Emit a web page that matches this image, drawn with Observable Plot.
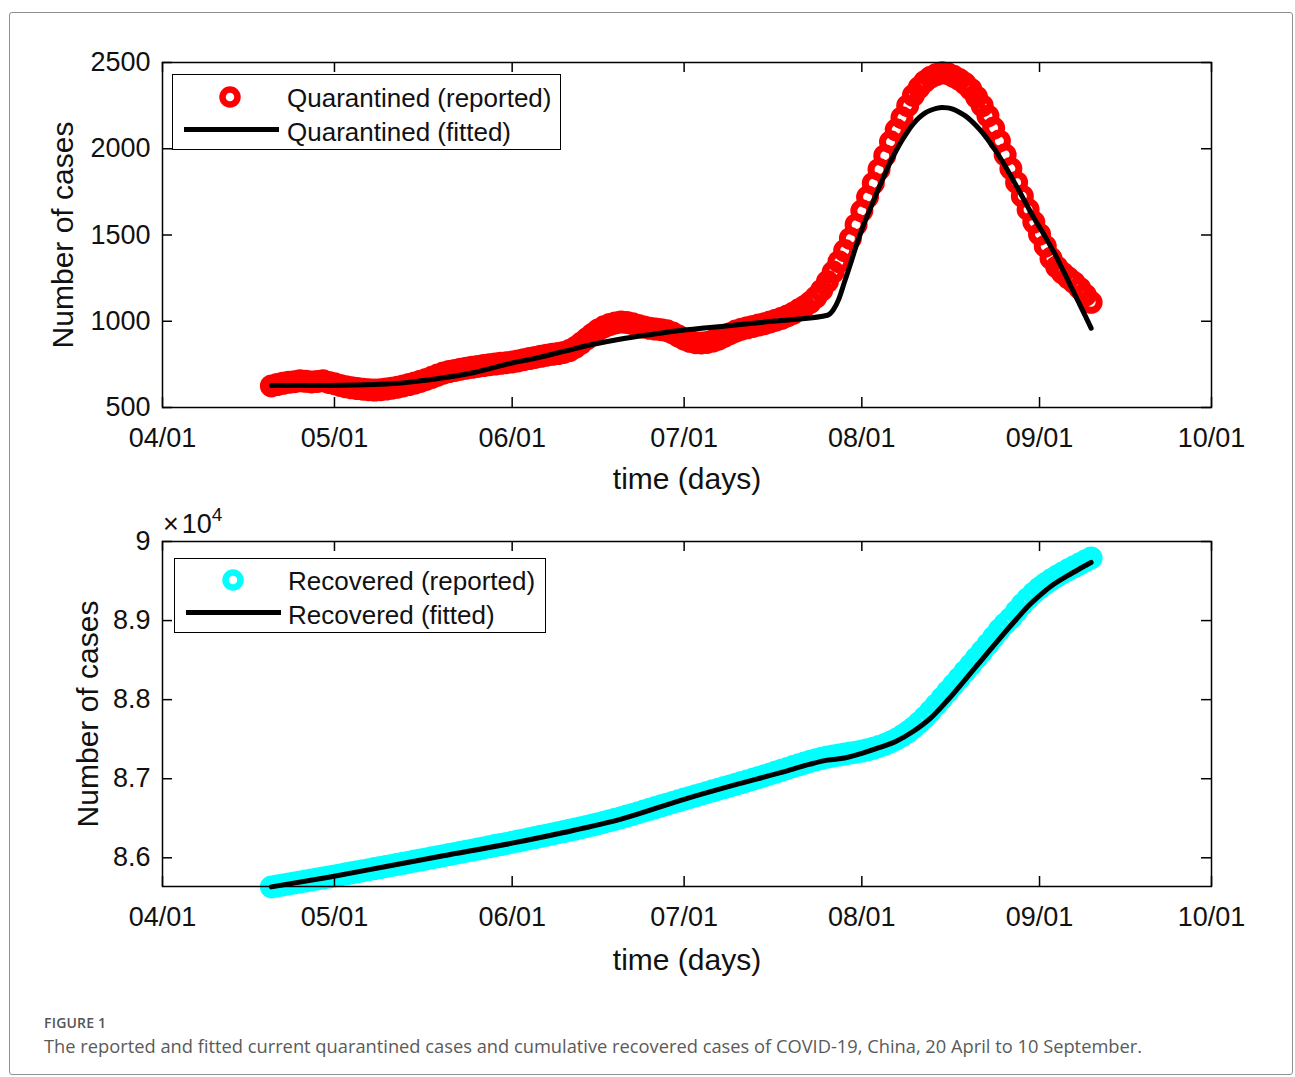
<!DOCTYPE html>
<html>
<head>
<meta charset="utf-8">
<script src="https://cdn.jsdelivr.net/npm/d3@7"></script>
<script src="https://cdn.jsdelivr.net/npm/@observablehq/plot@0.6"></script>
<style>
  html, body { margin:0; padding:0; background:#fff; }
  #fig { position:relative; width:1295px; height:1077px; overflow:hidden; background:#fff; }
  #border { position:absolute; left:9px; top:12px; width:1284px; height:1063px; box-sizing:border-box; border:1.5px solid #8f8f8f; border-radius:3px; }
  .panel { position:absolute; left:0; }
  .panel svg { display:block; overflow:visible; }
  .legend { position:absolute; box-sizing:border-box; border:1.5px solid #000; background:#fff; font-family:"Liberation Sans", Arial, sans-serif; font-size:26px; color:#111; }
  .legend .txt { position:absolute; white-space:nowrap; line-height:30px; }
  .legend svg.mk { position:absolute; overflow:visible; }
  .legend .ln { position:absolute; height:5px; background:#000; }
  .exp { position:absolute; font-family:"Liberation Sans", Arial, sans-serif; font-size:27px; line-height:30px; white-space:nowrap; color:#111; }
  .exp .sup { position:relative; top:-12px; font-size:19px; }
  #cap1 { position:absolute; left:44px; top:1013px; font-family:"Open Sans", "Noto Sans", sans-serif; font-size:14px; font-weight:600; letter-spacing:0.2px; color:#555; }
  #cap2 { position:absolute; left:44px; top:1033px; font-family:"Open Sans", "Noto Sans", sans-serif; font-size:18.3px; color:#5a5a5a; white-space:nowrap; }
</style>
</head>
<body>
<div id="fig">
  <div id="border"></div>
  <div class="panel" id="p1" style="top:0px"></div>
  <div class="panel" id="p2" style="top:490px"></div>

  <div class="legend" style="left:172px; top:74px; width:389px; height:76px;">
    <svg class="mk" style="left:0; top:0;" width="100" height="40"><circle cx="57" cy="22" r="7.5" fill="none" stroke="#ff0000" stroke-width="6.5"/></svg>
    <div class="txt" style="left:114px; top:8px;">Quarantined (reported)</div>
    <div class="ln" style="left:11px; top:52px; width:95px;"></div>
    <div class="txt" style="left:114px; top:42px;">Quarantined (fitted)</div>
  </div>

  <div class="legend" style="left:174px; top:558px; width:372px; height:75px;">
    <svg class="mk" style="left:0; top:0;" width="100" height="40"><circle cx="58" cy="21" r="7.5" fill="none" stroke="#00ffff" stroke-width="6.5"/></svg>
    <div class="txt" style="left:113px; top:7px;">Recovered (reported)</div>
    <div class="ln" style="left:11px; top:51px; width:95px;"></div>
    <div class="txt" style="left:113px; top:41px;">Recovered (fitted)</div>
  </div>

  <div class="exp" style="left:163px; top:509px;">×<span style="margin-left:3px">10</span><span class="sup">4</span></div>

  <div id="cap1">FIGURE 1</div>
  <div id="cap2">The reported and fitted current quarantined cases and cumulative recovered cases of COVID-19, China, 20 April to 10 September.</div>
</div>

<script>
// ---------- data ----------
const startDate = "2020-04-20"; // daily reports, 20 April to 10 September

const quarantinedReported = [
  // Apr 20-30
  625, 633, 640, 646, 650, 655, 652, 648, 651, 655, 645,
  // May
  638, 628, 620, 614, 610, 606, 603, 601, 603, 607, 612, 618, 625, 633, 642, 652, 663, 675, 688, 700, 708, 715, 722, 728, 733, 738, 743, 748, 752, 756, 760,
  // Jun
  764, 770, 777, 784, 790, 797, 803, 808, 813, 819, 830, 848, 872, 898, 925, 950, 968, 981, 990, 995, 993, 986, 976, 966, 959, 955, 951, 945, 932, 914,
  // Jul
  897, 884, 876, 874, 877, 885, 897, 912, 928, 943, 954, 962, 970, 978, 986, 996, 1006, 1017, 1031, 1046, 1066, 1086, 1110, 1140, 1180, 1230, 1285, 1345, 1410, 1480, 1560,
  // Aug
  1640, 1720, 1800, 1880, 1960, 2040, 2110, 2180, 2250, 2310, 2355, 2390, 2415, 2430, 2440, 2435, 2420, 2402, 2378, 2345, 2300, 2250, 2190, 2120, 2045, 1965, 1885, 1805, 1725, 1648, 1575,
  // Sep 1-10
  1505, 1435, 1365, 1315, 1280, 1252, 1225, 1192, 1152, 1110
];

const quarantinedFittedDates = [
  "2020-04-20","2020-04-25","2020-04-30","2020-05-05","2020-05-10","2020-05-15","2020-05-20","2020-05-25","2020-06-01","2020-06-05",
  "2020-06-10","2020-06-15","2020-06-20","2020-06-25","2020-06-30","2020-07-05","2020-07-10","2020-07-15","2020-07-20","2020-07-26",
  "2020-07-27","2020-07-28","2020-07-29","2020-07-30","2020-07-31","2020-08-01","2020-08-02","2020-08-03","2020-08-04","2020-08-05",
  "2020-08-06","2020-08-07","2020-08-08","2020-08-09","2020-08-10","2020-08-11","2020-08-12","2020-08-13","2020-08-14","2020-08-15",
  "2020-08-16","2020-08-17","2020-08-18","2020-08-19","2020-08-20","2020-08-21","2020-08-22","2020-08-23","2020-08-24","2020-08-25",
  "2020-08-26","2020-08-27","2020-08-28","2020-08-29","2020-08-30","2020-08-31","2020-09-01","2020-09-02","2020-09-03","2020-09-04",
  "2020-09-05","2020-09-06","2020-09-07","2020-09-08","2020-09-09","2020-09-10"
];
const quarantinedFitted = [
  627, 628, 628, 630, 636, 650, 672, 700, 758, 785,
  825, 865, 897, 922, 945, 962, 978, 995, 1010, 1035,
  1065, 1130, 1230, 1330, 1435, 1530, 1615, 1695, 1775, 1850,
  1925, 1990, 2048, 2100, 2145, 2180, 2206, 2223, 2234, 2239,
  2237, 2228, 2212, 2192, 2165, 2132, 2095, 2052, 2005, 1955,
  1900, 1842, 1782, 1722, 1660, 1600, 1545, 1490, 1430, 1370,
  1302, 1235, 1165, 1098, 1030, 960
];

const recoveredReported = [
  // Apr 20-30
  85632, 85644, 85657, 85669, 85682, 85694, 85707, 85719, 85732, 85744, 85757,
  // May
  85770, 85783, 85797, 85810, 85823, 85837, 85850, 85864, 85877, 85891, 85904, 85918, 85931, 85945, 85958, 85972, 85986, 86000, 86013, 86027, 86041, 86055, 86069, 86083, 86097, 86111, 86125, 86139, 86154, 86168, 86182,
  // Jun
  86197, 86211, 86226, 86241, 86256, 86271, 86286, 86301, 86317, 86332, 86348, 86364, 86380, 86397, 86414, 86432, 86450, 86469, 86488, 86508, 86528, 86549, 86570, 86592, 86613, 86635, 86657, 86678, 86700, 86721,
  // Jul
  86742, 86763, 86784, 86805, 86826, 86847, 86867, 86888, 86909, 86930, 86951, 86972, 86994, 87016, 87038, 87061, 87084, 87107, 87130, 87153, 87176, 87198, 87220, 87240, 87258, 87274, 87288, 87300, 87312, 87324, 87336,
  // Aug
  87350, 87366, 87385, 87408, 87434, 87465, 87500, 87542, 87590, 87645, 87708, 87778, 87855, 87937, 88020, 88104, 88188, 88272, 88356, 88441, 88527, 88614, 88702, 88792, 88883, 88960, 89030, 89120, 89205, 89280, 89350,
  // Sep 1-10
  89412, 89466, 89515, 89560, 89602, 89642, 89680, 89718, 89756, 89792
];

const recoveredFittedDates = [
  "2020-04-20","2020-04-30","2020-05-10","2020-05-20","2020-06-01","2020-06-10","2020-06-20","2020-07-01","2020-07-10","2020-07-18",
  "2020-07-23","2020-07-26","2020-07-29","2020-08-01","2020-08-04","2020-08-07","2020-08-10","2020-08-13","2020-08-16","2020-08-19",
  "2020-08-22","2020-08-25","2020-08-28","2020-08-30","2020-09-01","2020-09-03","2020-09-06","2020-09-08","2020-09-10"
];
const recoveredFitted = [
  85632, 85755, 85890, 86025, 86185, 86320, 86490, 86740, 86925, 87080,
  87185, 87235, 87262, 87320, 87392, 87474, 87600, 87766, 87995, 88250,
  88510, 88770, 89020, 89180, 89315, 89435, 89572, 89655, 89735
];

const monthTicks = ["2020-04-01","2020-05-01","2020-06-01","2020-07-01","2020-08-01","2020-09-01","2020-10-01"];
const quarantinedTicks = [500, 1000, 1500, 2000, 2500];
const recoveredTicks = [86000, 87000, 88000, 89000, 90000];
const quarantinedDomain = [500, 2500];
const recoveredDomain = [85637, 90000];

// ---------- drawing ----------
const parse = d3.utcParse("%Y-%m-%d");
const start = parse(startDate);
const xTicks = monthTicks.map(parse);
const xDomain = [xTicks[0], xTicks[xTicks.length - 1]];
const fmt = d3.utcFormat("%m/%d");

function panel({reported, fitDates, fitted, color, yDomain, yTicks, yFormat, height, marginTop, marginBottom, yLabelDx, xLabelDy}) {
  const W = 1295, ML = 162, MR = 84;
  const frameW = W - ML - MR;
  const frameH = height - marginTop - marginBottom;
  const rep = reported.map((v, i) => ({date: d3.utcDay.offset(start, i), value: v}));
  const fit = fitDates.map((d, i) => ({date: parse(d), value: fitted[i]}));
  return Plot.plot({
    width: W, height, marginLeft: ML, marginRight: MR, marginTop, marginBottom,
    style: {fontFamily: '"Liberation Sans", Arial, sans-serif', fontSize: "27px", color: "#111", background: "transparent", overflow: "visible"},
    x: {type: "utc", domain: xDomain},
    y: {domain: yDomain},
    marks: [
      Plot.dot(rep, {x: "date", y: "value", r: 8, stroke: color, strokeWidth: 7, fill: "none"}),
      Plot.line(fit, {x: "date", y: "value", stroke: "#000", strokeWidth: 5, strokeLinejoin: "round", curve: "monotone-x"}),
      Plot.tickX(xTicks, {x: d => d, stroke: "#000", strokeWidth: 1.5, insetTop: frameH - 10}),
      Plot.tickX(xTicks, {x: d => d, stroke: "#000", strokeWidth: 1.5, insetBottom: frameH - 10}),
      Plot.tickY(yTicks, {y: d => d, stroke: "#000", strokeWidth: 1.5, insetRight: frameW - 10}),
      Plot.tickY(yTicks, {y: d => d, stroke: "#000", strokeWidth: 1.5, insetLeft: frameW - 10}),
      Plot.frame({stroke: "#000", strokeWidth: 1.5}),
      Plot.axisX({ticks: xTicks, tickSize: 0, tickPadding: 20, tickFormat: fmt, label: null}),
      Plot.axisY({ticks: yTicks, tickSize: 0, tickPadding: 12, tickFormat: yFormat, label: null}),
      Plot.text(["time (days)"], {text: d => d, frameAnchor: "bottom", dy: xLabelDy, textAnchor: "middle", lineAnchor: "middle", fontSize: 30}),
      Plot.text(["Number of cases"], {text: d => d, frameAnchor: "left", dx: yLabelDx, rotate: -90, textAnchor: "middle", lineAnchor: "middle", fontSize: 30})
    ]
  });
}

document.getElementById("p1").appendChild(panel({
  reported: quarantinedReported, fitDates: quarantinedFittedDates, fitted: quarantinedFitted,
  color: "#ff0000", yDomain: quarantinedDomain, yTicks: quarantinedTicks, yFormat: d => String(d),
  height: 500, marginTop: 62, marginBottom: 93, yLabelDx: -99, xLabelDy: 72
}));

document.getElementById("p2").appendChild(panel({
  reported: recoveredReported, fitDates: recoveredFittedDates, fitted: recoveredFitted,
  color: "#00ffff", yDomain: recoveredDomain, yTicks: recoveredTicks, yFormat: d => String(d / 10000),
  height: 500, marginTop: 51, marginBottom: 104, yLabelDx: -74, xLabelDy: 74
}));
</script>
</body>
</html>
